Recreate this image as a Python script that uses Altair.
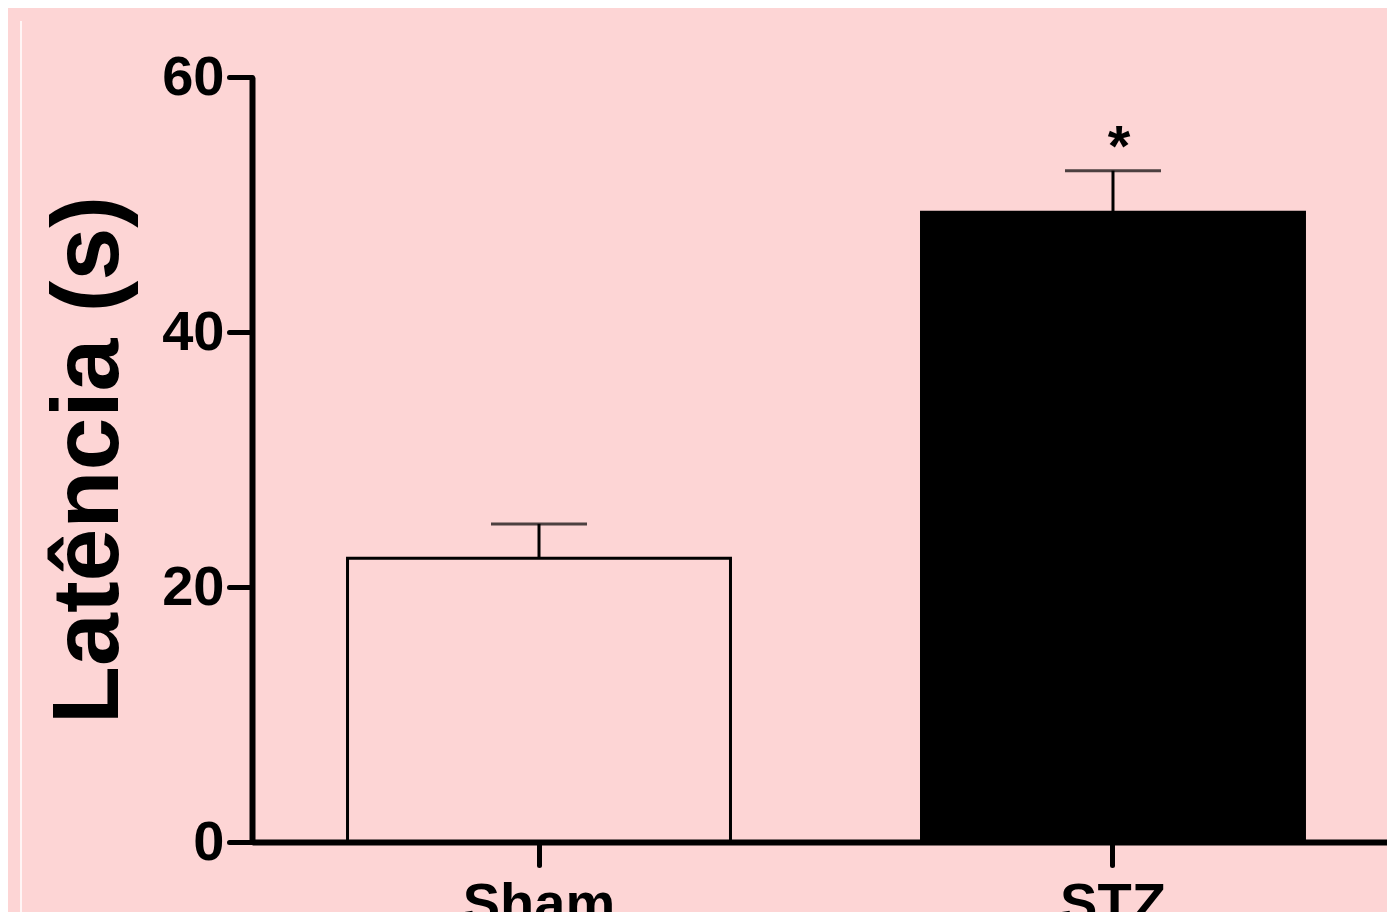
import altair as alt
import pandas as pd

groups = ["Sham", "STZ"]
means = [22.25, 49.4]
sems = [2.7, 3.25]
marks = ["", "*"]
y_ticks = [0, 20, 40, 60]

df = pd.DataFrame({
    "group": groups,
    "mean": means,
    "upper": [m + s for m, s in zip(means, sems)],
    "sig": marks,
})

BG = "#FDD5D5"
FONT = "Liberation Sans"

x_scale = alt.Scale(domain=groups, paddingInner=0.3328, paddingOuter=0.1551, align=0.5365)
y_scale = alt.Scale(domain=[0, 60], nice=False, zero=True)

x_axis = alt.Axis(
    title=None, labelAngle=0, labelFontSize=56, labelFont=FONT, labelFontWeight="bold",
    labelColor="black", labelPadding=12, tickSize=23, tickWidth=5, tickColor="black",
    domainWidth=6, domainColor="black", grid=False, tickCap="round",
)
y_axis = alt.Axis(
    title="Latência (s)", values=y_ticks, labelFontSize=56, labelFont=FONT,
    labelFontWeight="bold", labelColor="black", labelPadding=5, tickSize=23, tickWidth=5,
    tickColor="black", domainWidth=6, domainColor="black", grid=False, tickCap="round",
    titleFont=FONT, titleFontSize=95, titleFontWeight="bold", titleColor="black",
    titleAngle=270, titleAlign="center", titleBaseline="alphabetic",
    titleX=-135, titleY=382.5,
)

base = alt.Chart(df)

bars = base.mark_bar(stroke="black", strokeWidth=3).encode(
    x=alt.X("group:N", scale=x_scale, axis=x_axis, sort=groups),
    y=alt.Y("mean:Q", scale=y_scale, axis=y_axis),
    fill=alt.Fill("group:N", scale=alt.Scale(domain=groups, range=["rgba(0,0,0,0)", "black"]), legend=None),
)

err = base.mark_rule(color="black", strokeWidth=3).encode(
    x=alt.X("group:N", scale=x_scale, sort=groups),
    y=alt.Y("mean:Q", scale=y_scale),
    y2="upper:Q",
)

caps = base.mark_tick(color="black", thickness=3, size=96, orient="horizontal").encode(
    x=alt.X("group:N", scale=x_scale, sort=groups),
    y=alt.Y("upper:Q", scale=y_scale),
)

star = base.mark_text(font=FONT, fontSize=58, fontWeight="bold", color="black",
                      baseline="alphabetic", dy=-5, dx=6).encode(
    x=alt.X("group:N", scale=x_scale, sort=groups),
    y=alt.Y("upper:Q", scale=y_scale),
    text="sig:N",
)

edge = alt.Chart(pd.DataFrame({"k": [0]})).mark_rule(color="white", strokeWidth=1.5).encode(
    x=alt.value(-231), y=alt.value(-56), y2=alt.value(843)
)

chart = alt.layer(edge, bars, err, caps, star).properties(
    width=1135, height=765,
    autosize=alt.AutoSizeParams(type="none"),
    padding={"left": 244, "top": 69, "right": 0, "bottom": 70},
    background=BG,
).configure_view(stroke=None)

chart.save("out.html", embed_options={"renderer": "svg", "actions": False})
